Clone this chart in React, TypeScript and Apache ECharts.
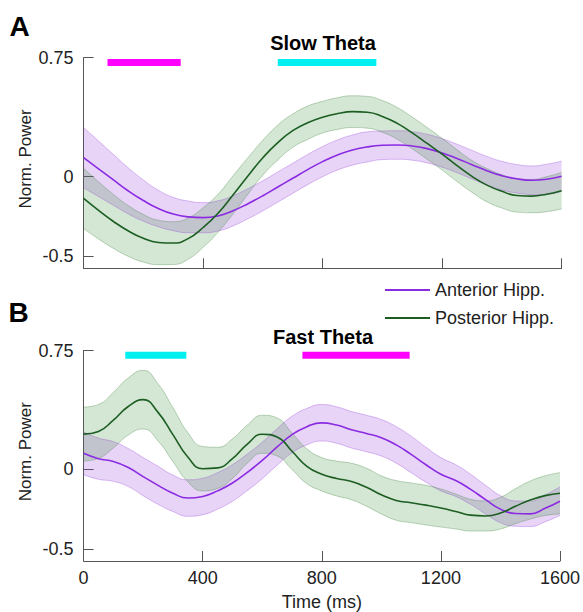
import React, { useEffect, useRef } from "react";
import * as echarts from "echarts";

// ---------- Data ----------
const times = [0, 50, 100, 150, 200, 250, 300, 350, 400, 450, 500, 550, 600, 650, 700, 750, 800, 850, 900, 950, 1000, 1050, 1100, 1150, 1200, 1250, 1300, 1350, 1400, 1450, 1500, 1550, 1600];

// Panel A: Slow Theta
const slowAnteriorMean = [0.12, 0.05, -0.02, -0.09, -0.15, -0.2, -0.235, -0.253, -0.258, -0.247, -0.215, -0.17, -0.12, -0.065, -0.01, 0.045, 0.095, 0.137, 0.168, 0.188, 0.198, 0.2, 0.194, 0.177, 0.15, 0.115, 0.076, 0.038, 0.007, -0.013, -0.022, -0.016, 0.003];
const slowAnteriorSem = [0.19, 0.175, 0.16, 0.145, 0.13, 0.115, 0.105, 0.1, 0.095, 0.095, 0.095, 0.095, 0.095, 0.095, 0.095, 0.095, 0.095, 0.095, 0.095, 0.095, 0.09, 0.09, 0.09, 0.09, 0.09, 0.09, 0.09, 0.09, 0.09, 0.09, 0.09, 0.095, 0.095];
const slowPosteriorMean = [-0.137, -0.212, -0.282, -0.342, -0.388, -0.414, -0.418, -0.39, -0.32, -0.23, -0.115, 0.005, 0.12, 0.215, 0.29, 0.34, 0.375, 0.398, 0.41, 0.406, 0.38, 0.336, 0.276, 0.21, 0.142, 0.07, 0.002, -0.053, -0.092, -0.118, -0.122, -0.11, -0.088];
const slowPosteriorSem = [0.19, 0.18, 0.17, 0.16, 0.15, 0.14, 0.135, 0.13, 0.125, 0.12, 0.12, 0.115, 0.11, 0.11, 0.105, 0.105, 0.1, 0.1, 0.1, 0.1, 0.1, 0.1, 0.1, 0.1, 0.1, 0.1, 0.1, 0.105, 0.105, 0.105, 0.105, 0.11, 0.115];

// Panel B: Fast Theta
const fastAnteriorMean = [0.102, 0.068, 0.05, 0.012, -0.045, -0.1, -0.15, -0.18, -0.17, -0.135, -0.085, -0.018, 0.057, 0.142, 0.22, 0.27, 0.294, 0.28, 0.25, 0.227, 0.2, 0.155, 0.095, 0.03, -0.03, -0.07, -0.125, -0.19, -0.25, -0.278, -0.28, -0.245, -0.2];
const fastAnteriorSem = [0.135, 0.13, 0.125, 0.12, 0.12, 0.12, 0.115, 0.115, 0.115, 0.115, 0.115, 0.115, 0.115, 0.115, 0.115, 0.115, 0.115, 0.115, 0.115, 0.115, 0.115, 0.115, 0.115, 0.11, 0.105, 0.1, 0.095, 0.09, 0.085, 0.08, 0.08, 0.085, 0.09];
const fastPosteriorMean = [0.223, 0.24, 0.311, 0.397, 0.44, 0.36, 0.22, 0.078, 0.005, 0.01, 0.068, 0.16, 0.222, 0.205, 0.115, 0.02, -0.03, -0.057, -0.076, -0.112, -0.16, -0.195, -0.21, -0.225, -0.243, -0.265, -0.288, -0.293, -0.275, -0.232, -0.193, -0.165, -0.15];
const fastPosteriorSem = [0.17, 0.17, 0.175, 0.18, 0.185, 0.18, 0.17, 0.155, 0.14, 0.13, 0.125, 0.12, 0.12, 0.12, 0.115, 0.11, 0.105, 0.11, 0.115, 0.12, 0.12, 0.125, 0.125, 0.125, 0.12, 0.11, 0.1, 0.095, 0.1, 0.11, 0.12, 0.125, 0.13];

// significance bars [start, end] in ms
const slowMagentaBar = [80, 325];
const slowCyanBar = [650, 980];
const fastCyanBar = [140, 345];
const fastMagentaBar = [735, 1095];
const barLevel = 0.72;

const xTickStep = 400;
const yTicks = [-0.5, 0, 0.75];
const seriesNames = ["Anterior Hipp.", "Posterior Hipp."];
const panelTitles = ["Slow Theta", "Fast Theta"];
const panelLetters = ["A", "B"];

// ---------- Styles ----------
const FONT = "Liberation Sans, Arial, Helvetica, sans-serif";
const PURPLE = "#8a2be2";
const GREEN = "#1c5e22";
const PURPLE_FILL = "rgba(150,60,220,0.22)";
const GREEN_FILL = "rgba(60,140,60,0.22)";
const PURPLE_EDGE = "rgba(150,60,220,0.32)";
const GREEN_EDGE = "rgba(60,130,60,0.32)";
const MAGENTA = "#ff00ff";
const CYAN = "#00f0f0";
const AXIS = "#555555";
const TEXT = "#222222";

const GRID_LEFT = 83.6;
const GRID_W = 478;
const grids = [
  { left: GRID_LEFT, top: 57.7, width: GRID_W, height: 210.6 },
  { left: GRID_LEFT, top: 350.5, width: GRID_W, height: 211.2 },
];
const Y_MIN = -0.577;
const Y_MAX = 0.75;

function band(mean: number[], sem: number[], fill: string, edge: string, g: number, id: string) {
  return [
    {
      type: "line",
      xAxisIndex: g,
      yAxisIndex: g,
      stack: id,
      stackStrategy: "all",
      data: mean.map((m, i) => m - sem[i]),
      smooth: true,
      symbol: "none",
      silent: true,
      lineStyle: { color: edge, width: 1 },
      z: 1,
    },
    {
      type: "line",
      xAxisIndex: g,
      yAxisIndex: g,
      stack: id,
      stackStrategy: "all",
      data: sem.map((s) => 2 * s),
      smooth: true,
      symbol: "none",
      silent: true,
      lineStyle: { color: edge, width: 1 },
      areaStyle: { color: fill, opacity: 1 },
      z: 1,
    },
  ];
}

function meanLine(name: string, mean: number[], color: string, g: number) {
  return {
    name,
    type: "line",
    xAxisIndex: g,
    yAxisIndex: g,
    data: mean,
    smooth: true,
    symbol: "none",
    color,
    lineStyle: { color, width: 1.6 },
    z: 3,
  };
}

function sigBar(range: number[], color: string, g: number) {
  return {
    type: "line",
    xAxisIndex: g + 2,
    yAxisIndex: g,
    data: [
      [range[0], barLevel],
      [range[1], barLevel],
    ],
    symbol: "none",
    silent: true,
    lineStyle: { color, width: 7, cap: "butt" },
    z: 4,
  };
}

export default function App() {
  const ref = useRef<HTMLDivElement>(null);

  useEffect(() => {
    document.body.style.margin = "0";
    if (!ref.current) return;
    const chart = echarts.init(ref.current, undefined, { renderer: "svg" });

    const showTick = (index: number) => times[index] % xTickStep === 0;

    const catAxes = [0, 1].map((g) => ({
      type: "category",
      gridIndex: g,
      data: times.map(String),
      boundaryGap: false,
      axisLine: { show: true, onZero: false, lineStyle: { color: AXIS, width: 1 } },
      axisTick: { show: true, inside: true, length: 10, interval: showTick, lineStyle: { color: AXIS } },
      axisLabel: {
        show: g === 1,
        interval: showTick,
        fontSize: 18,
        color: TEXT,
        fontFamily: FONT,
        margin: 8,
      },
      splitLine: { show: false },
      name: g === 1 ? "Time (ms)" : "",
      nameLocation: "middle",
      nameGap: 32,
      nameMoveOverlap: false,
      nameTextStyle: { fontSize: 18, color: TEXT, fontFamily: FONT },
    }));

    const valueAxes = [0, 1].map((g) => ({
      type: "value",
      gridIndex: g,
      min: 0,
      max: 1600,
      show: false,
    }));

    const yAxes = [0, 1].map((g) => ({
      type: "value",
      gridIndex: g,
      min: Y_MIN,
      max: Y_MAX,
      axisLine: { show: true, lineStyle: { color: AXIS, width: 1 } },
      axisTick: { show: true, inside: true, length: 10, lineStyle: { color: AXIS }, customValues: yTicks },
      axisLabel: {
        show: true,
        fontSize: 18,
        color: TEXT,
        fontFamily: FONT,
        margin: 10,
        customValues: yTicks,
        formatter: (v: number) => String(v),
      },
      splitLine: { show: false },
      name: "Norm. Power",
      nameLocation: "middle",
      nameGap: 50,
      nameMoveOverlap: false,
      nameTextStyle: { fontSize: 17, color: TEXT, fontFamily: FONT, padding: [0, 0, 0, 8] },
    }));

    const series: any[] = [
      ...band(slowAnteriorMean, slowAnteriorSem, PURPLE_FILL, PURPLE_EDGE, 0, "sa"),
      ...band(slowPosteriorMean, slowPosteriorSem, GREEN_FILL, GREEN_EDGE, 0, "sp"),
      meanLine(seriesNames[0], slowAnteriorMean, PURPLE, 0),
      meanLine(seriesNames[1], slowPosteriorMean, GREEN, 0),
      sigBar(slowMagentaBar, MAGENTA, 0),
      sigBar(slowCyanBar, CYAN, 0),
      ...band(fastAnteriorMean, fastAnteriorSem, PURPLE_FILL, PURPLE_EDGE, 1, "fa"),
      ...band(fastPosteriorMean, fastPosteriorSem, GREEN_FILL, GREEN_EDGE, 1, "fp"),
      meanLine(seriesNames[0], fastAnteriorMean, PURPLE, 1),
      meanLine(seriesNames[1], fastPosteriorMean, GREEN, 1),
      sigBar(fastCyanBar, CYAN, 1),
      sigBar(fastMagentaBar, MAGENTA, 1),
    ];

    chart.setOption({
      animation: false,
      backgroundColor: "#ffffff",
      grid: grids,
      xAxis: [...catAxes, ...valueAxes],
      yAxis: yAxes,
      legend: {
        data: seriesNames,
        orient: "vertical",
        left: 380,
        top: 276,
        icon: "rect",
        itemWidth: 45,
        itemHeight: 2,
        itemGap: 10,
        textStyle: { fontSize: 18, color: TEXT, fontFamily: FONT },
        selectedMode: false,
      },
      graphic: [
        { type: "text", x: 323, y: 43, style: { text: panelTitles[0], font: `bold 20px ${FONT}`, fill: "#000", align: "center", verticalAlign: "middle" } },
        { type: "text", x: 323, y: 337, style: { text: panelTitles[1], font: `bold 20px ${FONT}`, fill: "#000", align: "center", verticalAlign: "middle" } },
        { type: "text", x: 19.5, y: 26, style: { text: panelLetters[0], font: `bold 28px ${FONT}`, fill: "#000", align: "center", verticalAlign: "middle" } },
        { type: "text", x: 18.5, y: 312, style: { text: panelLetters[1], font: `bold 28px ${FONT}`, fill: "#000", align: "center", verticalAlign: "middle" } },
      ],
      series,
    });

    return () => chart.dispose();
  }, []);

  return <div ref={ref} style={{ position: "fixed", left: 0, top: 0, width: 583, height: 612 }} />;
}
